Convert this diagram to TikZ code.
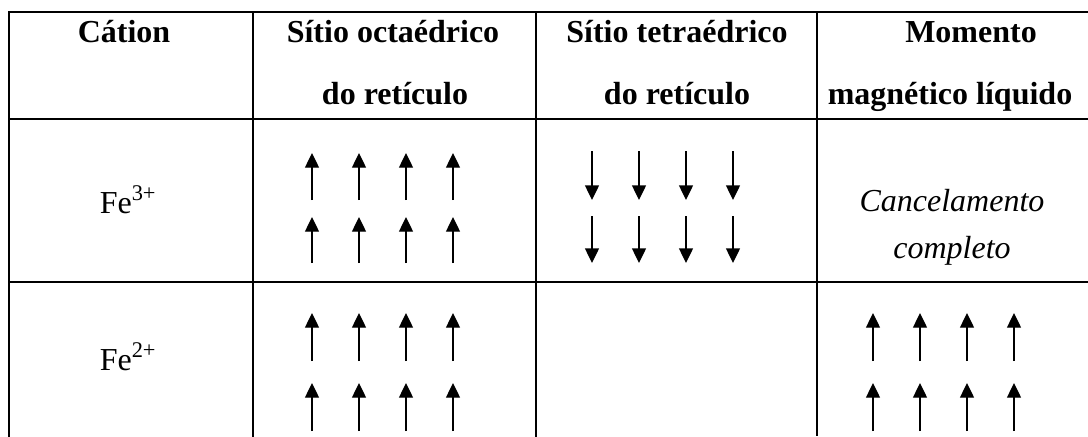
\documentclass[tikz,border=0pt]{standalone}
\usepackage{fontspec}
\setmainfont{Liberation Serif}
\usetikzlibrary{arrows.meta}
\begin{document}
\begin{tikzpicture}[x=0.75pt,y=-0.75pt,
  gridline/.style={line width=1.5pt, line cap=rect},
  thingrid/.style={line width=1pt},
  hdr/.style={font=\fontsize{24}{28}\selectfont\bfseries, anchor=base, inner sep=0pt},
  txt/.style={font=\fontsize{24}{28}\selectfont, anchor=base, inner sep=0pt},
  itxt/.style={font=\fontsize{24}{28}\selectfont\itshape, anchor=base, inner sep=0pt},
  spin/.style={line width=1pt, -{Triangle[length=11pt,width=10.5pt]}}]
\useasboundingbox (0,0) rectangle (1088,436);
% table rules
\draw[gridline] (9,11.5) -- (1088,11.5);
\draw[gridline] (9,119) -- (1088,119);
\draw[gridline] (9,282) -- (1088,282);
\draw[gridline] (9,11.5) -- (9,436);
\draw[gridline] (253,11.5) -- (253,436);
\draw[gridline] (536,11.5) -- (536,436);
\draw[thingrid] (817,11.5) -- (817,436);
% header
\node[hdr] (h1) at (124,42) {Cátion};
\node[hdr] (h2a) at (393,42) {Sítio octaédrico};
\node[hdr] (h2b) at (395,104) {do retículo};
\node[hdr] (h3a) at (677,42) {Sítio tetraédrico};
\node[hdr] (h3b) at (677,104) {do retículo};
\node[hdr] (h4a) at (971,42) {Momento};
\node[hdr] (h4b) at (950,104) {magnético líquido};
% row labels
\node[txt] (fe3) at (128,213) {Fe\textsuperscript{3+}};
\node[txt] (fe2) at (128,370) {Fe\textsuperscript{2+}};
\node[itxt] (c1) at (952,211) {Cancelamento};
\node[itxt] (c2) at (952,258) {completo};
% spins
\foreach \x in {312,359,406,453} {
  \draw[spin] (\x,200) -- (\x,153);
  \draw[spin] (\x,263) -- (\x,217);
  \draw[spin] (\x,361) -- (\x,313);
  \draw[spin] (\x,431) -- (\x,383);
}
\foreach \x in {592,639,686,733} {
  \draw[spin] (\x,151) -- (\x,200);
  \draw[spin] (\x,216) -- (\x,263);
}
\foreach \x in {873,920,967,1014} {
  \draw[spin] (\x,361) -- (\x,313);
  \draw[spin] (\x,431) -- (\x,383);
}
\end{tikzpicture}
\end{document}
